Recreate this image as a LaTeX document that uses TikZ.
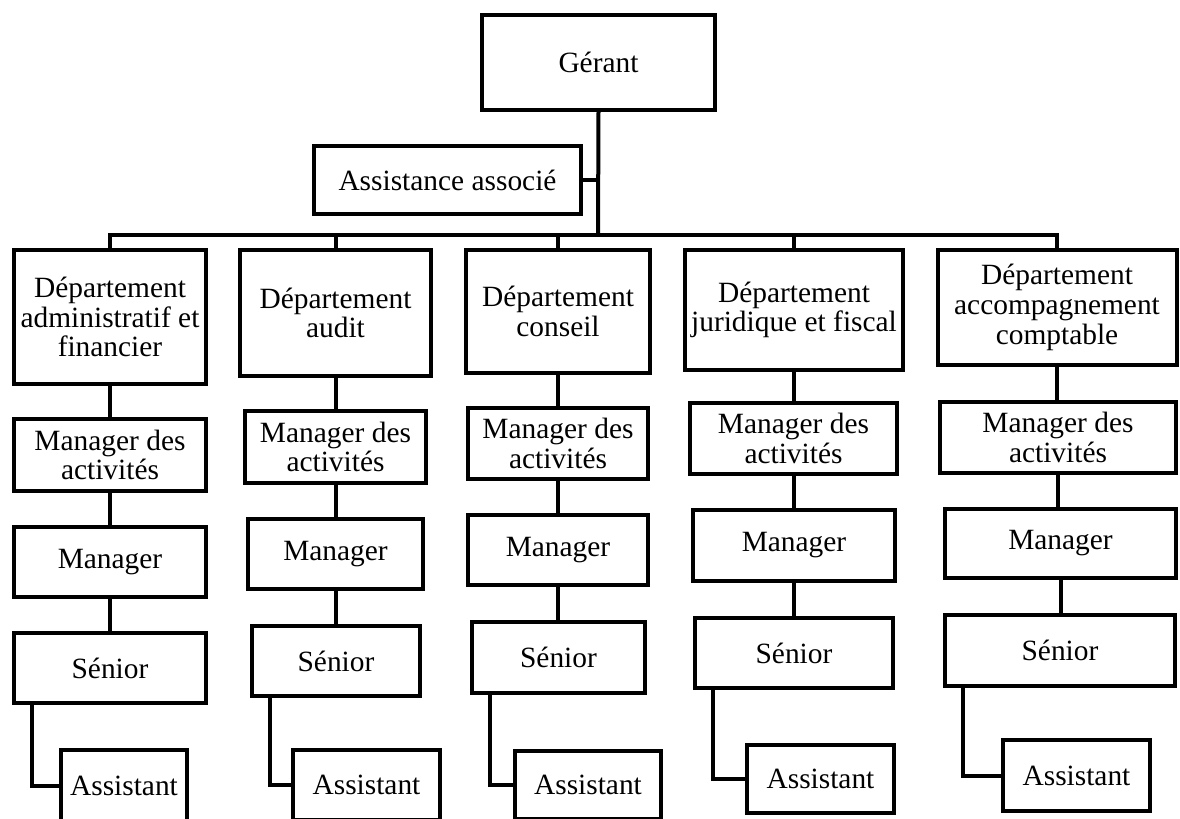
\documentclass[tikz,border=0pt]{standalone}
\usepackage{fontspec}
\setmainfont{Liberation Serif}

\begin{document}
\begin{tikzpicture}[x=0.5pt,y=-0.5pt,line width=2pt,
    box/.style={draw,line width=2pt,inner sep=0pt,align=center,
        font=\fontsize{14.7}{14.8}\selectfont},
    wh/.style 2 args={minimum width=#1*0.5pt-2pt,minimum height=#2*0.5pt-2pt}]
    \useasboundingbox (0,0) rectangle (1180,819);

    % top of the chart
    \node [box,wh={237}{99}] (ger) at (598.5,62.5) {Gérant};
    \node [box,wh={271}{72}] (asa) at (447.5,180) {Assistance associé};
    \coordinate (bus) at (598,235);

    % departments
    \node [box,wh={196}{138}] (dep1) at (110,317)    {Département\\administratif et\\financier};
    \node [box,wh={195}{130}] (dep2) at (335.5,313)  {Département\\audit};
    \node [box,wh={188}{127}] (dep3) at (558,311.5)  {Département\\conseil};
    \node [box,wh={222}{124}] (dep4) at (794,310)    {Département\\juridique et fiscal};
    \node [box,wh={243}{119}] (dep5) at (1057,307.5) {Département\\accompagnement\\comptable};

    % managers des activites
    \node [box,wh={196}{76}] (mda1) at (110,455)    {Manager des\\activités};
    \node [box,wh={185}{76}] (mda2) at (335.5,447)  {Manager des\\activités};
    \node [box,wh={184}{75}] (mda3) at (558,443.5)  {Manager des\\activités};
    \node [box,wh={211}{75}] (mda4) at (793.5,438.5) {Manager des\\activités};
    \node [box,wh={240}{75}] (mda5) at (1058,437.5) {Manager des\\activités};

    % managers
    \node [box,wh={196}{74}] (man1) at (110,562)    {Manager};
    \node [box,wh={179}{74}] (man2) at (335.5,554)  {Manager};
    \node [box,wh={184}{74}] (man3) at (558,550)    {Manager};
    \node [box,wh={206}{75}] (man4) at (794,545.5)  {Manager};
    \node [box,wh={235}{73}] (man5) at (1060.5,543.5) {Manager};

    % seniors
    \node [box,wh={196}{74}] (sen1) at (110,668)    {Sénior};
    \node [box,wh={172}{74}] (sen2) at (336,661)    {Sénior};
    \node [box,wh={177}{75}] (sen3) at (558.5,657.5) {Sénior};
    \node [box,wh={202}{74}] (sen4) at (794,653)    {Sénior};
    \node [box,wh={234}{75}] (sen5) at (1060,650.5) {Sénior};

    % assistants
    \node [box,wh={130}{76}] (ast1) at (124,786)    {Assistant};
    \node [box,wh={151}{74}] (ast2) at (366.5,785)  {Assistant};
    \node [box,wh={150}{72}] (ast3) at (588,785)    {Assistant};
    \node [box,wh={151}{72}] (ast4) at (820.5,779)  {Assistant};
    \node [box,wh={151}{75}] (ast5) at (1076.5,775.5) {Assistant};

    % links
    \draw (ger.south) -- (bus);
    \draw (asa.east) -- (asa.east -| ger.south);
    \draw (dep1.north) |- (bus) -| (dep5.north);
    \foreach \i in {2,3,4}
        \draw (dep\i.north) -- (dep\i.north |- bus);

    \foreach \i in {1,...,5}{%
        \draw (dep\i.south) -- (dep\i.south |- mda\i.north);
        \draw (mda\i.south) -- (mda\i.south |- man\i.north);
        \draw (man\i.south) -- (man\i.south |- sen\i.north);
        \draw ([xshift=10pt]sen\i.south west) |- (ast\i.west);}
\end{tikzpicture}
\end{document}
